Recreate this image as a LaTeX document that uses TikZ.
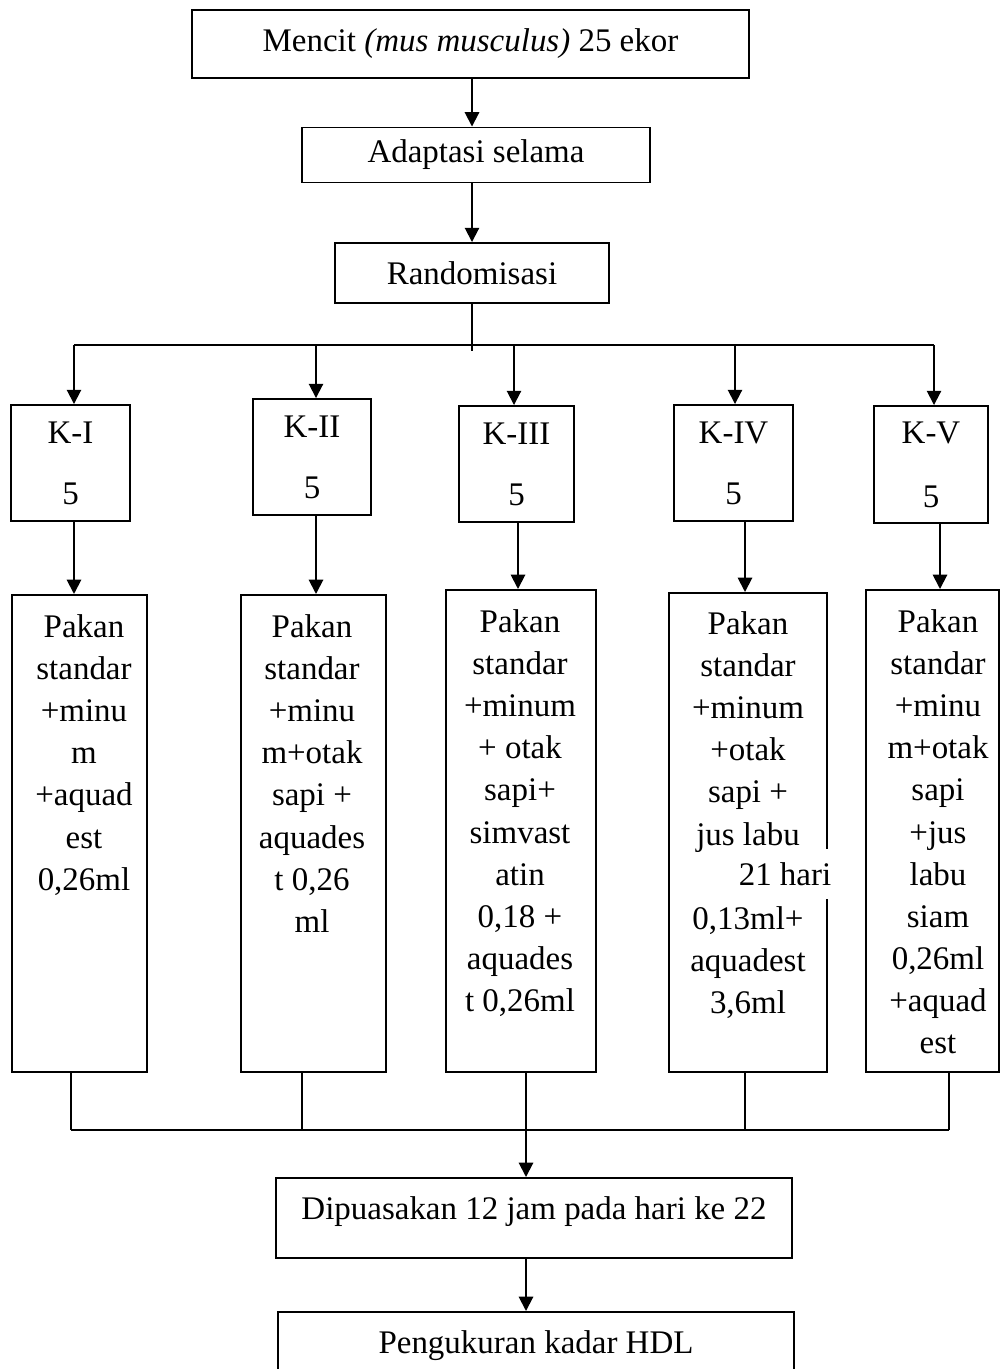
\documentclass[tikz,border=0pt]{standalone}
\usepackage{fontspec}
\setmainfont{Liberation Serif}
\usetikzlibrary{arrows.meta}
\newdimen\pxu
\pxu=0.364pt
\begin{document}
\begin{tikzpicture}[x=0.364pt, y=-0.364pt, line width=0.7pt, font=\fontsize{12}{15.3}\selectfont,
	kotak/.style={draw, align=center, inner sep=0pt},
	isi/.style={align=center, inner sep=0pt, anchor=north},
	panah/.style={-{Triangle[width=5.2pt,length=5.2pt]}}]
	\useasboundingbox (0,0) rectangle (1000,1369);
	% tahap awal
	\node[kotak, minimum width=557*\pxu, minimum height=68*\pxu] (mencit) at (470.5,44) {Mencit \textit{(mus musculus)} 25 ekor};
	\node[kotak, minimum width=348*\pxu, minimum height=55*\pxu] (adaptasi) at (476,155) {Adaptasi selama};
	\node[kotak, minimum width=274*\pxu, minimum height=60*\pxu] (rnd) at (472,273) {Randomisasi};
	\draw[panah] (mencit.south -| rnd) -- (adaptasi.north -| rnd);
	\draw[panah] (adaptasi.south -| rnd) -- (rnd.north);
	% kelompok
	\node[kotak, minimum width=119*\pxu, minimum height=116*\pxu] (k1) at (70.5,463) {K-I\\[7pt]5};
	\node[kotak, minimum width=118*\pxu, minimum height=116*\pxu] (k2) at (312,457) {K-II\\[7pt]5};
	\node[kotak, minimum width=115*\pxu, minimum height=116*\pxu] (k3) at (516.5,464) {K-III\\[7pt]5};
	\node[kotak, minimum width=119*\pxu, minimum height=116*\pxu] (k4) at (733.5,463) {K-IV\\[7pt]5};
	\node[kotak, minimum width=114*\pxu, minimum height=117*\pxu] (k5) at (931,464.5) {K-V\\[8pt]5};
	\coordinate (b1) at (74,345);
	\coordinate (b2) at (316,345);
	\coordinate (b3) at (514,345);
	\coordinate (b4) at (735,345);
	\coordinate (b5) at (934,345);
	\draw (rnd.south) -- ++(0,47);
	\draw (b1) -- (b5);
	\draw[panah] (b1) -- (b1 |- k1.north);
	\draw[panah] (b2) -- (b2 |- k2.north);
	\draw[panah] (b3) -- (b3 |- k3.north);
	\draw[panah] (b4) -- (b4 |- k4.north);
	\draw[panah] (b5) -- (b5 |- k5.north);
	% perlakuan
	\node[kotak, anchor=north west, minimum width=135*\pxu, minimum height=477*\pxu] (p1) at (11,594) {};
	\node[kotak, anchor=north west, minimum width=145*\pxu, minimum height=477*\pxu] (p2) at (240,594) {};
	\node[kotak, anchor=north west, minimum width=150*\pxu, minimum height=482*\pxu] (p3) at (445,589) {};
	\node[kotak, anchor=north west, minimum width=158*\pxu, minimum height=479*\pxu] (p4) at (668,592) {};
	\node[kotak, anchor=north west, minimum width=133*\pxu, minimum height=482*\pxu] (p5) at (865,589) {};
	\node[isi] (t1) at (84,614) {Pakan\\standar\\+minu\\m\\+aquad\\est\\0,26ml};
	\node[isi] (t2) at (312,614) {Pakan\\standar\\+minu\\m+otak\\sapi +\\aquades\\t 0,26\\ml};
	\node[isi] (t3) at (520,609) {Pakan\\standar\\+minum\\+ otak\\sapi+\\simvast\\atin\\0,18 +\\aquades\\t 0,26ml};
	\node[isi] (t4) at (748,611) {Pakan\\standar\\+minum\\+otak\\sapi +\\jus labu\\~\\0,13ml+\\aquadest\\3,6ml};
	\node[isi] (t5) at (938,609) {Pakan\\standar\\+minu\\m+otak\\sapi\\+jus\\labu\\siam\\0,26ml\\+aquad\\est};
	\node[fill=white, inner xsep=1pt, inner ysep=5pt] (hari) at (785,874) {21 hari};
	\coordinate (m1) at (74,0);
	\coordinate (m2) at (316,0);
	\coordinate (m3) at (518,0);
	\coordinate (m4) at (745,0);
	\coordinate (m5) at (940,0);
	\draw[panah] (k1.south -| m1) -- (p1.north -| m1);
	\draw[panah] (k2.south -| m2) -- (p2.north -| m2);
	\draw[panah] (k3.south -| m3) -- (p3.north -| m3);
	\draw[panah] (k4.south -| m4) -- (p4.north -| m4);
	\draw[panah] (k5.south -| m5) -- (p5.north -| m5);
	% akhir
	\node[kotak, anchor=north, minimum width=516*\pxu, minimum height=80*\pxu, text depth=7pt] (puasa) at (534,1177) {Dipuasakan 12 jam pada hari ke 22};
	\node[kotak, anchor=north, minimum width=516*\pxu, minimum height=80*\pxu, text depth=7pt] (ukur) at (536,1311) {Pengukuran kadar HDL};
	\coordinate (g1) at (71,1130);
	\coordinate (g2) at (302,1130);
	\coordinate (g3) at (526,1130);
	\coordinate (g4) at (745,1130);
	\coordinate (g5) at (949,1130);
	\draw (g1) -- (g5);
	\draw (g1 |- p1.south) -- (g1);
	\draw (g2 |- p2.south) -- (g2);
	\draw (g4 |- p4.south) -- (g4);
	\draw (g5 |- p5.south) -- (g5);
	\draw[panah] (g3 |- p3.south) -- (g3 |- puasa.north);
	\draw[panah] (puasa.south -| g3) -- (ukur.north -| g3);
\end{tikzpicture}
\end{document}
